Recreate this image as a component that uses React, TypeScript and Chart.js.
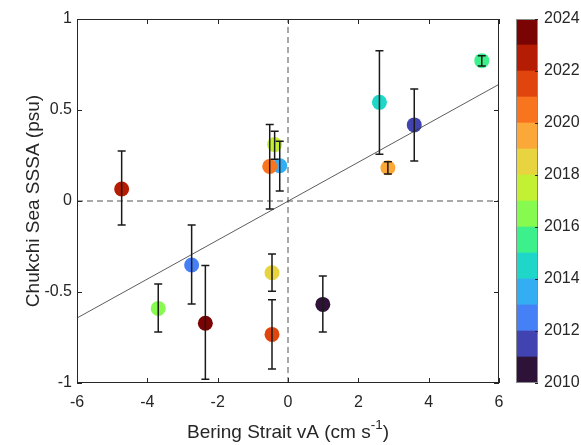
import React, { useEffect, useRef } from 'react';
import { Chart, registerables } from 'chart.js';

Chart.register(...registerables);

// ---- data ----
const years = [2010, 2011, 2012, 2013, 2014, 2015, 2016, 2017, 2018, 2019, 2020, 2021, 2022, 2023];
const vA = [0.99, 3.59, -2.74, -0.235, 2.6, 5.51, -3.69, -0.38, -0.455, 2.84, -0.52, -0.455, -4.73, -2.35];
const sssa = [-0.568, 0.418, -0.352, 0.194, 0.542, 0.771, -0.59, 0.31, -0.394, 0.183, 0.19, -0.733, 0.066, -0.672];
const errHigh = [-0.412, 0.615, -0.132, 0.328, 0.826, 0.798, -0.456, 0.383, -0.291, 0.216, 0.42, -0.542, 0.275, -0.355];
const errLow = [-0.72, 0.22, -0.566, 0.055, 0.257, 0.742, -0.72, 0.23, -0.496, 0.148, -0.044, -0.923, -0.132, -0.98];

const regX = [-6, 6];
const regY = [-0.643, 0.641];
const zeroX = [-6, 6];
const zeroY = [-1, 1];

const colorbarColors = [
  '#2f1238', '#4143b0', '#4680f6', '#34aef2', '#1ed7c8', '#3cf08c', '#86fa4e',
  '#c4f033', '#e8d43e', '#fca839', '#f9741f', '#e0450e', '#b41d03', '#7a0403',
];
const cbMin = 2010;
const cbMax = 2024;

const xTitleMain = 'Bering Strait vA (cm s';
const xTitleSup = '-1';
const xTitleEnd = ')';
const yTitle = 'Chukchi Sea SSSA (psu)';

const FONT = "'Liberation Sans', Arial, Helvetica, sans-serif";
const AX = '#262626';
const TICK_SIZE = 16;
const TITLE_SIZE = 19;

export default function App() {
  const mainRef = useRef<HTMLCanvasElement>(null);
  const cbRef = useRef<HTMLCanvasElement>(null);

  useEffect(() => {
    document.body.style.margin = '0';

    const pointColors = years.map((y) => colorbarColors[y - cbMin]);

    const framePlugin = {
      id: 'framePlugin',
      afterDatasetsDraw(chart: any) {
        const { ctx, chartArea: a, scales } = chart;
        const xs = scales.x;
        const ys = scales.y;
        ctx.save();
        // error bars
        ctx.strokeStyle = '#1a1a1a';
        ctx.lineWidth = 1.5;
        for (let i = 0; i < vA.length; i++) {
          const px = xs.getPixelForValue(vA[i]);
          const pt = ys.getPixelForValue(errHigh[i]);
          const pb = ys.getPixelForValue(errLow[i]);
          ctx.beginPath();
          ctx.moveTo(px, pt);
          ctx.lineTo(px, pb);
          ctx.moveTo(px - 4, pt);
          ctx.lineTo(px + 4, pt);
          ctx.moveTo(px - 4, pb);
          ctx.lineTo(px + 4, pb);
          ctx.stroke();
        }
        // box
        ctx.strokeStyle = AX;
        ctx.lineWidth = 1;
        ctx.strokeRect(a.left + 0.5, a.top + 0.5, a.right - a.left - 1, a.bottom - a.top - 1);
        // ticks inside
        ctx.beginPath();
        xs.ticks.forEach((t: any) => {
          const px = Math.round(xs.getPixelForValue(t.value)) + 0.5;
          ctx.moveTo(px, a.bottom);
          ctx.lineTo(px, a.bottom - 5);
          ctx.moveTo(px, a.top);
          ctx.lineTo(px, a.top + 5);
        });
        ys.ticks.forEach((t: any) => {
          const py = Math.round(ys.getPixelForValue(t.value)) + 0.5;
          ctx.moveTo(a.left, py);
          ctx.lineTo(a.left + 5, py);
          ctx.moveTo(a.right, py);
          ctx.lineTo(a.right - 5, py);
        });
        ctx.stroke();
        // x title with superscript
        const cx = (a.left + a.right) / 2;
        ctx.fillStyle = AX;
        ctx.textBaseline = 'alphabetic';
        ctx.font = `${TITLE_SIZE}px ${FONT}`;
        const w1 = ctx.measureText(xTitleMain).width;
        const w3 = ctx.measureText(xTitleEnd).width;
        ctx.font = `13.5px ${FONT}`;
        const w2 = ctx.measureText(xTitleSup).width;
        const x0 = cx - (w1 + w2 + w3) / 2;
        const base = 438;
        ctx.textAlign = 'left';
        ctx.font = `${TITLE_SIZE}px ${FONT}`;
        ctx.fillText(xTitleMain, x0, base);
        ctx.font = `13.5px ${FONT}`;
        ctx.fillText(xTitleSup, x0 + w1, base - 9);
        ctx.font = `${TITLE_SIZE}px ${FONT}`;
        ctx.fillText(xTitleEnd, x0 + w1 + w2, base);
        ctx.restore();
      },
    };

    const main = new Chart(mainRef.current!, {
      type: 'scatter',
      data: {
        datasets: [
          {
            type: 'line',
            data: regX.map((x, i) => ({ x, y: regY[i] })),
            borderColor: '#333333',
            borderWidth: 0.8,
            pointRadius: 0,
            fill: false,
          } as any,
          {
            type: 'line',
            data: zeroX.map((x) => ({ x, y: 0 })),
            borderColor: '#555555',
            borderWidth: 1,
            borderDash: [6, 4],
            pointRadius: 0,
            fill: false,
          } as any,
          {
            type: 'line',
            data: zeroY.map((y) => ({ x: 0, y })),
            borderColor: '#555555',
            borderWidth: 1,
            borderDash: [6, 4],
            pointRadius: 0,
            fill: false,
          } as any,
          {
            type: 'scatter',
            data: vA.map((x, i) => ({ x, y: sssa[i] })),
            pointBackgroundColor: pointColors,
            pointBorderWidth: 0,
            pointBorderColor: pointColors,
            pointRadius: 7.5,
            pointHoverRadius: 7.5,
          } as any,
        ],
      },
      options: {
        animation: false,
        responsive: false,
        events: [],
        layout: { padding: { left: 0, top: 19, right: 82, bottom: 0 } },
        plugins: { legend: { display: false }, tooltip: { enabled: false } },
        scales: {
          x: {
            type: 'linear',
            min: -6,
            max: 6,
            ticks: { stepSize: 2, color: AX, font: { size: TICK_SIZE, family: FONT }, padding: 10, callback: (v: any) => String(v) },
            grid: { display: false, drawTicks: false },
            border: { display: false },
            afterFit: (s: any) => { s.height = 62; },
          } as any,
          y: {
            type: 'linear',
            min: -1,
            max: 1,
            ticks: { stepSize: 0.5, color: AX, font: { size: TICK_SIZE, family: FONT }, padding: 5, callback: (v: any) => String(v) },
            grid: { display: false, drawTicks: false },
            border: { display: false },
            title: { display: true, text: yTitle, color: AX, font: { size: TITLE_SIZE, family: FONT }, padding: { top: 22, bottom: 0 } },
            afterFit: (s: any) => { s.width = 77; },
          } as any,
        },
      },
      plugins: [framePlugin],
    });

    const cbPlugin = {
      id: 'cbPlugin',
      afterDatasetsDraw(chart: any) {
        const { ctx, chartArea: a, scales } = chart;
        const ys = scales.y;
        ctx.save();
        ctx.strokeStyle = '#8a8a8a';
        ctx.lineWidth = 1;
        ctx.strokeRect(a.left + 0.5, a.top + 0.5, a.right - a.left - 1, a.bottom - a.top - 1);
        ctx.strokeStyle = AX;
        ctx.beginPath();
        ys.ticks.forEach((t: any) => {
          const py = Math.round(ys.getPixelForValue(t.value)) + 0.5;
          ctx.moveTo(a.right, py);
          ctx.lineTo(a.right - 3, py);
        });
        ctx.stroke();
        ctx.restore();
      },
    };

    const cb = new Chart(cbRef.current!, {
      type: 'bar',
      data: {
        labels: [''],
        datasets: colorbarColors.map((c, i) => ({
          data: [[years[i], years[i] + 1]],
          backgroundColor: c,
          borderWidth: 0,
          grouped: false,
          barPercentage: 1,
          categoryPercentage: 1,
        })) as any,
      },
      options: {
        animation: false,
        responsive: false,
        events: [],
        layout: { padding: { left: 16, top: 19, right: 0, bottom: 62 } },
        plugins: { legend: { display: false }, tooltip: { enabled: false } },
        scales: {
          x: { display: false },
          y: {
            type: 'linear',
            position: 'right',
            min: cbMin,
            max: cbMax,
            ticks: {
              stepSize: 2,
              color: AX,
              font: { size: TICK_SIZE, family: FONT },
              padding: 6,
              callback: (v: any) => String(v),
            },
            grid: { display: false, drawTicks: false },
            border: { display: false },
            afterFit: (s: any) => { s.width = 43; },
          } as any,
        },
      },
      plugins: [cbPlugin],
    });

    return () => {
      main.destroy();
      cb.destroy();
    };
  }, []);

  return (
    <div style={{ position: 'relative', width: 581, height: 445 }}>
      <canvas ref={mainRef} width={581} height={445} style={{ position: 'absolute', left: 0, top: 0 }} />
      <canvas ref={cbRef} width={81} height={445} style={{ position: 'absolute', left: 500, top: 0 }} />
    </div>
  );
}
